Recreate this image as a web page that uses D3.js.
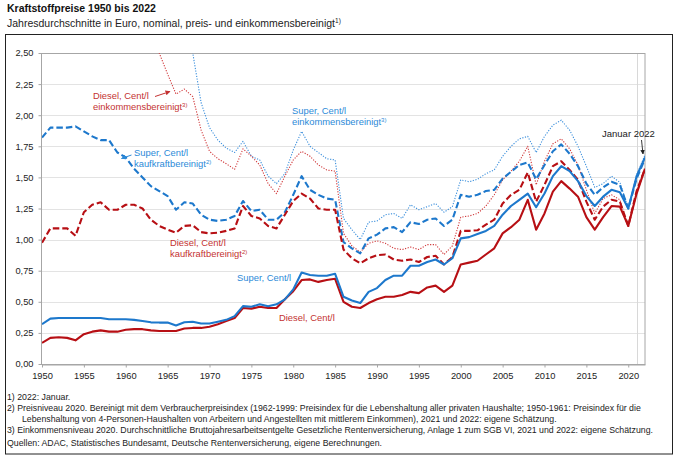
<!DOCTYPE html>
<html lang="de">
<head>
<meta charset="utf-8">
<script src="https://cdn.jsdelivr.net/npm/d3@7"></script>
<style>
  body { margin: 0; background: #fff; }
  svg { display: block; font-family: Arial, "Liberation Sans", sans-serif; }
</style>
</head>
<body>
<div id="chart"></div>
<script>
// Kategorien und Werte (Euro je Liter)
const years = d3.range(1950, 2023);
const xTickYears = [1950, 1955, 1960, 1965, 1970, 1975, 1980, 1985, 1990, 1995, 2000, 2005, 2010, 2015, 2020];
const yTickValues = [0, 0.25, 0.5, 0.75, 1, 1.25, 1.5, 1.75, 2, 2.25, 2.5];

const superNominal = [
  0.32, 0.365, 0.37, 0.37, 0.37, 0.37, 0.37, 0.37, 0.36, 0.36,
  0.36, 0.355, 0.345, 0.335, 0.333, 0.333, 0.31, 0.335, 0.34, 0.325,
  0.325, 0.34, 0.355, 0.385, 0.465, 0.46, 0.48, 0.465, 0.48, 0.52,
  0.60, 0.735, 0.715, 0.71, 0.71, 0.725, 0.54, 0.51, 0.49, 0.58,
  0.61, 0.675, 0.71, 0.71, 0.79, 0.79, 0.82, 0.84, 0.80, 0.85,
  1.01, 1.02, 1.045, 1.07, 1.11, 1.20, 1.27, 1.32, 1.37, 1.26,
  1.37, 1.51, 1.59, 1.55, 1.47, 1.35, 1.27, 1.345, 1.40, 1.38,
  1.25, 1.51, 1.66
];
const dieselNominal = [
  0.17, 0.21, 0.215, 0.21, 0.19, 0.24, 0.26, 0.27, 0.26, 0.26,
  0.275, 0.28, 0.28, 0.27, 0.265, 0.265, 0.265, 0.285, 0.29, 0.29,
  0.30, 0.32, 0.345, 0.37, 0.45, 0.445, 0.46, 0.45, 0.45, 0.52,
  0.585, 0.675, 0.68, 0.66, 0.675, 0.685, 0.50, 0.46, 0.45, 0.49,
  0.52, 0.54, 0.54, 0.555, 0.58, 0.57, 0.615, 0.63, 0.58, 0.63,
  0.80, 0.815, 0.83, 0.88, 0.93, 1.05, 1.10, 1.16, 1.32, 1.08,
  1.21, 1.385, 1.47, 1.41, 1.345, 1.18, 1.08, 1.18, 1.27, 1.265,
  1.11, 1.37, 1.57
];
const superKaufkraft = [
  1.82, 1.90, 1.90, 1.90, 1.91, 1.87, 1.83, 1.80, 1.80, 1.70,
  1.66, 1.57, 1.50, 1.43, 1.39, 1.35, 1.24, 1.30, 1.29, 1.20,
  1.16, 1.15, 1.16, 1.19, 1.31, 1.23, 1.24, 1.16, 1.16, 1.22,
  1.36, 1.51, 1.40, 1.36, 1.33, 1.32, 0.98, 0.93, 0.89, 1.01,
  1.04, 1.09, 1.10, 1.06, 1.14, 1.125, 1.16, 1.17, 1.11, 1.16,
  1.36, 1.345, 1.36, 1.39, 1.40, 1.49, 1.545, 1.60, 1.62, 1.485,
  1.60, 1.71, 1.765, 1.69, 1.59, 1.45, 1.36, 1.42, 1.465, 1.44,
  1.25, 1.49, 1.65
];
const dieselKaufkraft = [
  0.975, 1.09, 1.09, 1.09, 1.03, 1.22, 1.28, 1.30, 1.24, 1.24,
  1.28, 1.28, 1.25, 1.16, 1.11, 1.08, 1.055, 1.11, 1.115, 1.06,
  1.05, 1.055, 1.07, 1.09, 1.27, 1.19, 1.17, 1.11, 1.09, 1.20,
  1.31, 1.37, 1.33, 1.25, 1.24, 1.24, 0.92, 0.85, 0.81, 0.85,
  0.875, 0.88, 0.84, 0.83, 0.84, 0.82, 0.86, 0.87, 0.80, 0.86,
  1.07, 1.07, 1.075, 1.12, 1.16, 1.29, 1.36, 1.40, 1.54, 1.305,
  1.44, 1.59, 1.63, 1.56, 1.48, 1.305, 1.16, 1.265, 1.32, 1.305,
  1.11, 1.39, 1.57
];
// frühe Jahre liegen oberhalb der Achse (2,50) und sind nicht ablesbar
const superEinkommen = [
  null, null, null, null, null, null, null, null, null, null,
  null, null, null, null, null, null, null, 2.85, 2.50, 2.10,
  1.90, 1.80, 1.735, 1.70, 1.79, 1.67, 1.64, 1.51, 1.45, 1.53,
  1.72, 1.87, 1.75, 1.70, 1.65, 1.64, 1.17, 1.08, 1.00, 1.14,
  1.15, 1.20, 1.21, 1.17, 1.28, 1.24, 1.265, 1.29, 1.22, 1.265,
  1.48, 1.465, 1.485, 1.53, 1.56, 1.67, 1.75, 1.81, 1.83, 1.70,
  1.83, 1.92, 1.96, 1.88, 1.75, 1.59, 1.42, 1.45, 1.51, 1.46,
  1.25, 1.52, 1.68
];
const dieselEinkommen = [
  null, null, null, null, null, null, null, null, null, null,
  null, null, null, 2.80, 2.50, 2.33, 2.17, 2.21, 2.15, 1.88,
  1.71, 1.65, 1.61, 1.565, 1.73, 1.67, 1.60, 1.45, 1.37, 1.51,
  1.64, 1.71, 1.67, 1.60, 1.56, 1.55, 1.05, 0.95, 0.90, 0.97,
  0.99, 0.97, 0.93, 0.92, 0.94, 0.92, 0.96, 0.96, 0.88, 0.95,
  1.18, 1.19, 1.21, 1.27, 1.36, 1.48, 1.55, 1.63, 1.75, 1.44,
  1.63, 1.77, 1.81, 1.73, 1.60, 1.40, 1.21, 1.33, 1.36, 1.32,
  1.11, 1.39, 1.57
];

document.addEventListener("DOMContentLoaded", function () {
    const width = 680;
    const height = 464;
    const plot = { left: 42, right: 645, top: 53, bottom: 364 };

    const blue = "#1d78cc";
    const red = "#b70f14";
    const blueLight = "#3b8fdc";
    const redLight = "#d0383a";
    const blueText = "#2c8ad8";
    const redText = "#c43232";

    const de = d3.formatLocale({ decimal: ",", thousands: ".", grouping: [3], currency: ["", " €"] });
    const fmt = de.format(".2f");

    const x = d3.scaleLinear()
        .domain([1950, 2022])
        .range([plot.left, plot.right]);

    const y = d3.scaleLinear()
        .domain([0, 2.5])
        .range([plot.bottom, plot.top]);

    const svg = d3.select("#chart")
        .append("svg")
        .attr("width", width)
        .attr("height", height);

    const defs = svg.append("defs");
    defs.append("clipPath")
        .attr("id", "plotclip")
        .append("rect")
        .attr("x", plot.left)
        .attr("y", plot.top)
        .attr("width", plot.right - plot.left)
        .attr("height", plot.bottom - plot.top);

    [["arrRed", redText], ["arrBlue", blueText], ["arrBlack", "#222"]].forEach(([id, c]) => {
        defs.append("marker")
            .attr("id", id)
            .attr("viewBox", "0 0 10 10")
            .attr("refX", 9).attr("refY", 5)
            .attr("markerWidth", 5).attr("markerHeight", 5)
            .attr("orient", "auto")
            .append("path")
            .attr("d", "M0,0L10,5L0,10z")
            .attr("fill", c);
    });

    // Titel
    svg.append("text")
        .attr("x", 7).attr("y", 12)
        .attr("font-size", 10.5).attr("font-weight", "bold")
        .attr("fill", "#111")
        .text("Kraftstoffpreise 1950 bis 2022");

    const sub = svg.append("text")
        .attr("x", 7).attr("y", 26.5)
        .attr("font-size", 10.5)
        .attr("fill", "#222")
        .text("Jahresdurchschnitte in Euro, nominal, preis- und einkommensbereinigt");
    sub.append("tspan").attr("font-size", 6.5).attr("dy", -4).text("1)");

    // Rahmen
    svg.append("rect")
        .attr("x", 5.5).attr("y", 34.5)
        .attr("width", 667).attr("height", 419.5)
        .attr("fill", "none")
        .attr("stroke", "#222")
        .attr("stroke-width", 1);

    // Gitter
    svg.append("g")
        .selectAll("line")
        .data(yTickValues.filter(v => v > 0 && v < 2.5))
        .join("line")
        .attr("x1", plot.left).attr("x2", plot.right)
        .attr("y1", d => Math.round(y(d)) + 0.5)
        .attr("y2", d => Math.round(y(d)) + 0.5)
        .attr("stroke", "#e3e3e3");

    svg.append("line")
        .attr("x1", Math.round(x(2021)) + 0.5).attr("x2", Math.round(x(2021)) + 0.5)
        .attr("y1", plot.top).attr("y2", plot.bottom)
        .attr("stroke", "#d8d8d8");

    svg.append("rect")
        .attr("x", plot.left - 0.5).attr("y", plot.top + 0.5)
        .attr("width", plot.right - plot.left + 0.5)
        .attr("height", plot.bottom - plot.top)
        .attr("fill", "none")
        .attr("stroke", "#a6a6a6");

    // Achsen
    const xAxis = svg.append("g")
        .attr("transform", `translate(0,${plot.bottom + 0.5})`)
        .call(d3.axisBottom(x).tickValues(xTickYears).tickFormat(d3.format("d")).tickSize(3).tickSizeOuter(0));
    xAxis.select(".domain").attr("stroke", "#a6a6a6");
    xAxis.selectAll(".tick line").attr("stroke", "#a6a6a6");
    xAxis.selectAll("text").attr("font-size", 9.3).attr("fill", "#222").attr("dy", "0.95em")
        .attr("font-family", "Arial, 'Liberation Sans', sans-serif");

    const yAxis = svg.append("g")
        .attr("transform", `translate(${plot.left - 0.5},0)`)
        .call(d3.axisLeft(y).tickValues(yTickValues).tickFormat(fmt).tickSize(3).tickSizeOuter(0));
    yAxis.select(".domain").remove();
    yAxis.selectAll(".tick line").attr("stroke", "#a6a6a6");
    yAxis.selectAll("text").attr("font-size", 9.3).attr("fill", "#222").attr("x", -8)
        .attr("font-family", "Arial, 'Liberation Sans', sans-serif");

    // Linien
    const series = [
        { values: superEinkommen, color: blueLight, width: 1.1, dash: "1.2,1.5" },
        { values: dieselEinkommen, color: redLight, width: 1.1, dash: "1.2,1.5" },
        { values: superKaufkraft, color: blue, width: 2.1, dash: "6.5,3" },
        { values: dieselKaufkraft, color: red, width: 2.1, dash: "6.5,3" },
        { values: dieselNominal, color: red, width: 2.1, dash: null },
        { values: superNominal, color: blue, width: 2.1, dash: null }
    ];

    const line = d3.line()
        .defined(d => d.v != null)
        .x(d => x(d.year))
        .y(d => y(d.v));

    const lines = svg.append("g").attr("clip-path", "url(#plotclip)");
    series.forEach(s => {
        const pts = years.map((yr, i) => ({ year: yr, v: s.values[i] }));
        lines.append("path")
            .datum(pts)
            .attr("fill", "none")
            .attr("stroke", s.color)
            .attr("stroke-width", s.width)
            .attr("stroke-linejoin", "round")
            .attr("stroke-dasharray", s.dash)
            .attr("d", line);
    });

    // Beschriftungen
    function label(xp, yp, color, rows, sup) {
        const t = svg.append("text")
            .attr("x", xp).attr("y", yp)
            .attr("font-size", 9.4)
            .attr("fill", color);
        rows.forEach((r, i) => {
            t.append("tspan").attr("x", xp).attr("dy", i === 0 ? 0 : 11).text(r);
        });
        if (sup) t.append("tspan").attr("font-size", 6).attr("dy", -3.5).text(sup);
    }

    label(93, 99, redText, ["Diesel, Cent/l", "einkommensbereinigt"], "3)");
    label(292, 114, blueText, ["Super, Cent/l", "einkommensbereinigt"], "3)");
    label(134, 156, blueText, ["Super, Cent/l", "kaufkraftbereinigt"], "2)");
    label(170, 246, redText, ["Diesel, Cent/l", "kaufkraftbereinigt"], "2)");
    label(237, 281, blueText, ["Super, Cent/l"], null);
    label(279, 321, redText, ["Diesel, Cent/l"], null);

    svg.append("text")
        .attr("x", 602).attr("y", 137)
        .attr("font-size", 9.5)
        .attr("fill", "#222")
        .text("Januar 2022");

    svg.append("line")
        .attr("x1", 155).attr("y1", 96.5).attr("x2", 170).attr("y2", 91.5)
        .attr("stroke", redText).attr("stroke-width", 1)
        .attr("marker-end", "url(#arrRed)");
    svg.append("line")
        .attr("x1", 131.5).attr("y1", 155).attr("x2", 121.5).attr("y2", 158.5)
        .attr("stroke", blueText).attr("stroke-width", 1)
        .attr("marker-end", "url(#arrBlue)");
    svg.append("line")
        .attr("x1", 641.5).attr("y1", 140).attr("x2", 643).attr("y2", 154)
        .attr("stroke", "#222").attr("stroke-width", 0.9)
        .attr("marker-end", "url(#arrBlack)");

    // Fussnoten
    const notes = [
        { y: 399.5, t: "1) 2022: Januar." },
        { y: 410.5, t: "2) Preisniveau 2020. Bereinigt mit dem Verbraucherpreisindex (1962-1999: Preisindex für die Lebenshaltung aller privaten Haushalte; 1950-1961: Preisindex für die" },
        { y: 421.5, t: "Lebenshaltung von 4-Personen-Haushalten von Arbeitern und Angestellten mit mittlerem Einkommen), 2021 und 2022: eigene Schätzung.", indent: 15 },
        { y: 432.5, t: "3) Einkommensniveau 2020. Durchschnittliche Bruttojahresarbeitsentgelte Gesetzliche Rentenversicherung, Anlage 1 zum SGB VI, 2021 und 2022: eigene Schätzung." },
        { y: 446, t: "Quellen: ADAC, Statistisches Bundesamt, Deutsche Rentenversicherung, eigene Berechnungen." }
    ];
    svg.append("g")
        .selectAll("text")
        .data(notes)
        .join("text")
        .attr("x", d => 7 + (d.indent || 0))
        .attr("y", d => d.y)
        .attr("font-size", 8.75)
        .attr("fill", "#222")
        .text(d => d.t);
});
</script>
</body>
</html>
